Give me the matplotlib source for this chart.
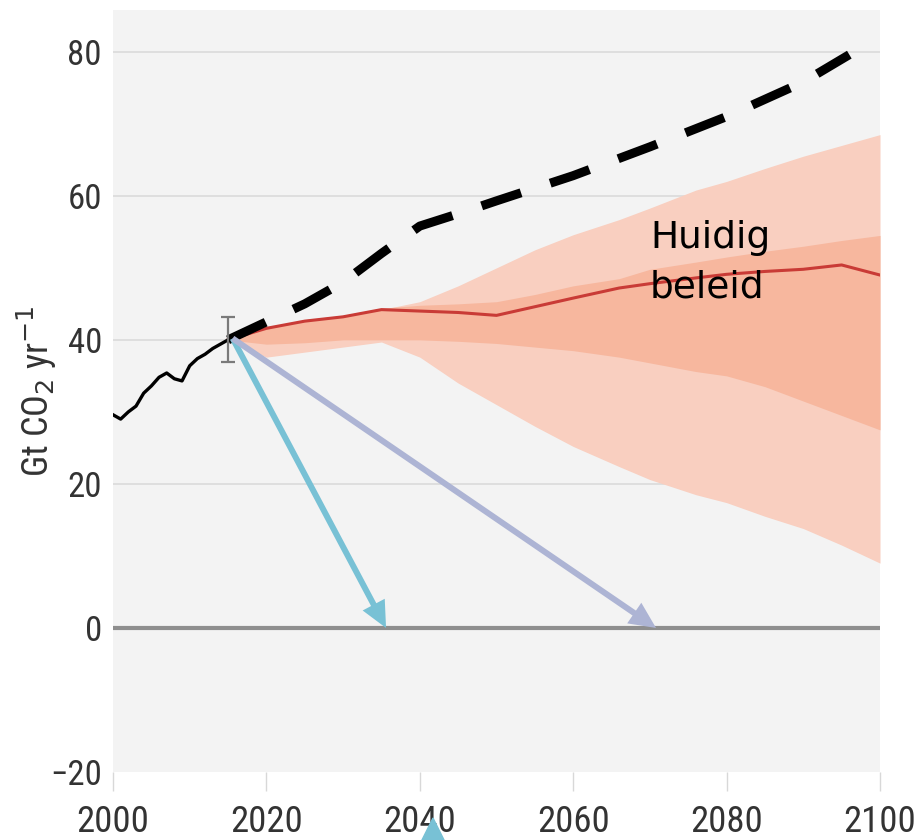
import matplotlib
matplotlib.use("Agg")
import matplotlib.pyplot as plt
from matplotlib.patches import Polygon
from matplotlib import font_manager as fm

# ---- data ----
hist_years = [2000, 2001, 2002, 2003, 2004, 2005, 2006, 2007, 2008, 2009, 2010, 2011, 2012, 2013, 2014, 2015]
hist_vals = [29.6, 29.0, 30.0, 30.8, 32.6, 33.6, 34.8, 35.4, 34.6, 34.3, 36.4, 37.4, 38.0, 38.8, 39.4, 40.0]

base_years = [2015, 2020, 2025, 2030, 2035, 2040, 2045, 2050, 2060, 2070, 2080, 2090, 2096]
base_vals = [40.0, 42.5, 45.0, 48.0, 52.0, 55.8, 57.5, 59.3, 62.8, 66.8, 71.0, 75.8, 79.6]

proj_years = [2015, 2020, 2025, 2030, 2035, 2040, 2045, 2050, 2055, 2060, 2066, 2070, 2076, 2080, 2085, 2090, 2095, 2100]
median = [40.0, 41.6, 42.6, 43.2, 44.2, 44.0, 43.8, 43.4, 44.6, 45.8, 47.2, 47.8, 48.6, 49.1, 49.5, 49.8, 50.4, 49.0]
outer_hi = [40.0, 41.8, 42.6, 43.3, 44.2, 45.3, 47.5, 50.0, 52.5, 54.6, 56.7, 58.3, 60.8, 62.0, 63.8, 65.5, 67.0, 68.5]
outer_lo = [40.0, 37.6, 38.3, 39.0, 39.7, 37.6, 34.0, 31.0, 28.0, 25.2, 22.4, 20.6, 18.5, 17.4, 15.5, 13.8, 11.5, 9.0]
inner_hi = [40.0, 41.7, 42.8, 43.4, 44.4, 44.8, 45.0, 45.3, 46.3, 47.5, 48.5, 49.8, 50.8, 51.5, 52.3, 53.0, 53.8, 54.5]
inner_lo = [40.0, 39.4, 39.6, 40.0, 40.0, 40.0, 39.8, 39.5, 39.0, 38.5, 37.6, 36.8, 35.6, 35.0, 33.5, 31.5, 29.5, 27.5]

err_year = 2015
err_val = 40.0
err_low, err_high = 3.1, 3.2

arrow_start = (2015.6, 40.2)
arrow_fast_end = (2035.6, 0.0)
arrow_slow_end = (2070.8, 0.0)

yticks = [-20, 0, 20, 40, 60, 80]
xticks = [2000, 2020, 2040, 2060, 2080, 2100]

# ---- pick a narrow font if one is installed ----
narrow_file = None
pref_names = ["Liberation Sans Narrow", "Roboto Condensed", "Open Sans Condensed",
              "Noto Sans Condensed", "DejaVu Sans Condensed"]
entries = fm.fontManager.ttflist
for nm in pref_names:
    for f in entries:
        if f.name == nm and f.style == "normal" and f.weight in (400, "normal", "regular"):
            narrow_file = f.fname
            break
    if narrow_file:
        break
if narrow_file is None:
    for f in entries:
        if (str(f.stretch) in ("condensed", "semi-condensed")
                and f.style == "normal" and f.weight in (400, "normal", "regular")
                and f.name in ("DejaVu Sans", "Noto Sans", "Open Sans", "Roboto", "Liberation Sans")):
            narrow_file = f.fname
            break

def tfont(size):
    if narrow_file:
        return fm.FontProperties(fname=narrow_file, size=size)
    return fm.FontProperties(family="Liberation Sans", size=size * 0.88)

# ---- figure ----
fig = plt.figure(figsize=(9.2, 8.4), dpi=100)
ax = fig.add_axes([113/920, 68/840, (880-113)/920, (772-10)/840])
ax.set_facecolor("#f3f3f3")
ax.set_xlim(2000, 2100)
ax.set_ylim(-20, 85.8)

for s in ax.spines.values():
    s.set_visible(False)

for y in [20, 40, 60, 80]:
    ax.axhline(y, color="#dcdcdc", lw=1.3, zorder=1)
ax.axhline(0, color="#8e8e8e", lw=3, zorder=2)

ax.fill_between(proj_years, outer_lo, outer_hi, color="#f9cfc0", lw=0, zorder=3)
ax.fill_between(proj_years, inner_lo, inner_hi, color="#f7b79e", lw=0, zorder=4)
ax.plot(proj_years, median, color="#c93b36", lw=2.2, zorder=5)

ax.plot(base_years, base_vals, color="black", lw=6.5, dashes=(4.6, 3.4),
        dash_capstyle="butt", zorder=6)
ax.plot(hist_years, hist_vals, color="black", lw=2.4, zorder=7)

ax.errorbar([err_year], [err_val], yerr=[[err_low], [err_high]], fmt="none",
            ecolor="#7a7a7a", elinewidth=1.6, capsize=5, capthick=1.6, zorder=8)

ax.annotate("", xy=arrow_fast_end, xytext=arrow_start,
            arrowprops=dict(width=4.3, headwidth=18, headlength=19, shrink=0,
                            facecolor="#78c1d5", edgecolor="none"),
            zorder=9)
ax.annotate("", xy=arrow_slow_end, xytext=arrow_start,
            arrowprops=dict(width=4.3, headwidth=18, headlength=19, shrink=0,
                            facecolor="#adb4d4", edgecolor="none"),
            zorder=9)

ax.text(2070.0, 52.8, "Huidig", fontsize=27, color="black",
        family="DejaVu Sans", va="baseline", ha="left", zorder=10)
ax.text(2070.0, 45.9, "beleid", fontsize=27, color="black",
        family="DejaVu Sans", va="baseline", ha="left", zorder=10)

ax.set_yticks(yticks)
ax.set_yticklabels(["\u221220" if v < 0 else str(v) for v in yticks],
                   fontproperties=tfont(25), color="#333333")
ax.tick_params(axis="y", length=0, pad=8)
ax.set_xticks(xticks)
ax.set_xticklabels([str(v) for v in xticks], fontproperties=tfont(26.5),
                   color="#333333")
ax.tick_params(axis="x", length=14, width=1, color="#d8d8d8", pad=9, direction="out")

ax.set_ylabel("Gt CO$_2$ yr$^{-1}$", fontproperties=tfont(26), color="#333333")
ax.yaxis.set_label_coords(-0.07, 0.5)

# blue triangle below the axis
tri = Polygon([[433/920, 1-818/840], [408/920, 1-868/840], [458/920, 1-868/840]],
              closed=True, transform=fig.transFigure, color="#78c1d5", zorder=20)
fig.patches.append(tri)

fig.savefig("out.png", dpi=100, facecolor="white")
